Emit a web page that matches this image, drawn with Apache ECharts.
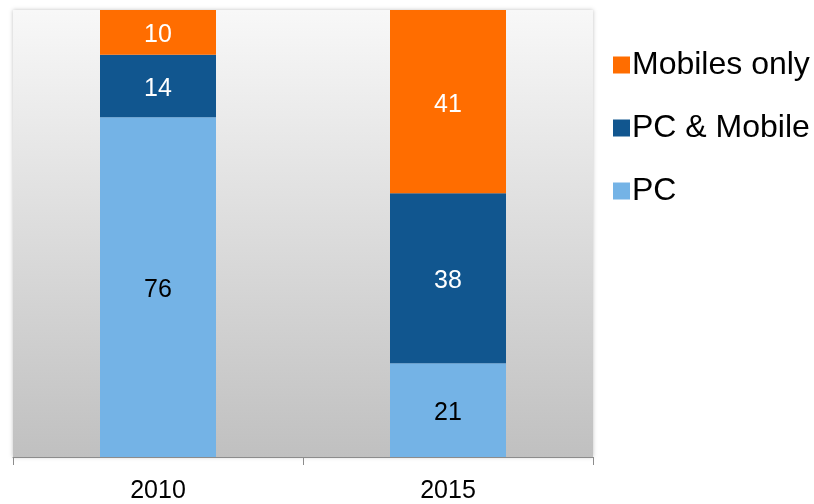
<!DOCTYPE html>
<html>
<head>
<meta charset="utf-8">
<script src="https://cdn.jsdelivr.net/npm/echarts@6/dist/echarts.min.js"></script>
<style>
  html, body { margin: 0; padding: 0; background: #fff; }
  #main { width: 814px; height: 504px; }
</style>
</head>
<body>
<div id="main"></div>
<script>
// data
var years = ["2010", "2015"];
var pcOnly = [76, 21];
var pcMobile = [14, 38];
var mobileOnly = [10, 41];
var legendNames = ["Mobiles only", "PC & Mobile", "PC"];

var font = "Liberation Sans, Arial, sans-serif";

var chart = echarts.init(document.getElementById("main"));

var mkLabel = function(color) {
  return { show: true, position: "inside", offset: [0, 3], color: color, fontSize: 25, fontFamily: font };
};

var option = {
  animation: false,
  grid: {
    left: 13, right: 221, top: 10, bottom: 46,
    show: true,
    borderWidth: 0,
    shadowColor: "rgba(0,0,0,0.25)",
    shadowBlur: 4,
    backgroundColor: new echarts.graphic.LinearGradient(0, 0, 0, 1, [
      { offset: 0, color: "#f8f8f8" },
      { offset: 1, color: "#c0c0c0" }
    ])
  },
  legend: {
    orient: "vertical",
    left: 608, top: 44,
    data: legendNames,
    icon: "rect",
    itemWidth: 17, itemHeight: 17,
    itemGap: 31,
    textStyle: { fontSize: 32, lineHeight: 32, fontFamily: font, color: "#000", padding: [0, 0, 0, -3] }
  },
  xAxis: {
    type: "category",
    data: years,
    axisLine: { lineStyle: { color: "#8c8c8c", width: 1 } },
    axisTick: { show: true, length: 8, lineStyle: { color: "#8c8c8c" } },
    axisLabel: { fontSize: 25, fontFamily: font, color: "#000", margin: 22 }
  },
  yAxis: {
    type: "value", min: 0, max: 100, show: false,
    splitLine: { show: false }
  },
  series: [
    { name: "PC", type: "bar", stack: "a", data: pcOnly, barWidth: 116,
      itemStyle: { color: "#74b3e6" }, label: mkLabel("#000") },
    { name: "PC & Mobile", type: "bar", stack: "a", data: pcMobile,
      itemStyle: { color: "#11568f" }, label: mkLabel("#fff") },
    { name: "Mobiles only", type: "bar", stack: "a", data: mobileOnly,
      itemStyle: { color: "#ff6d00" }, label: mkLabel("#fff") }
  ]
};

chart.setOption(option);
</script>
</body>
</html>
